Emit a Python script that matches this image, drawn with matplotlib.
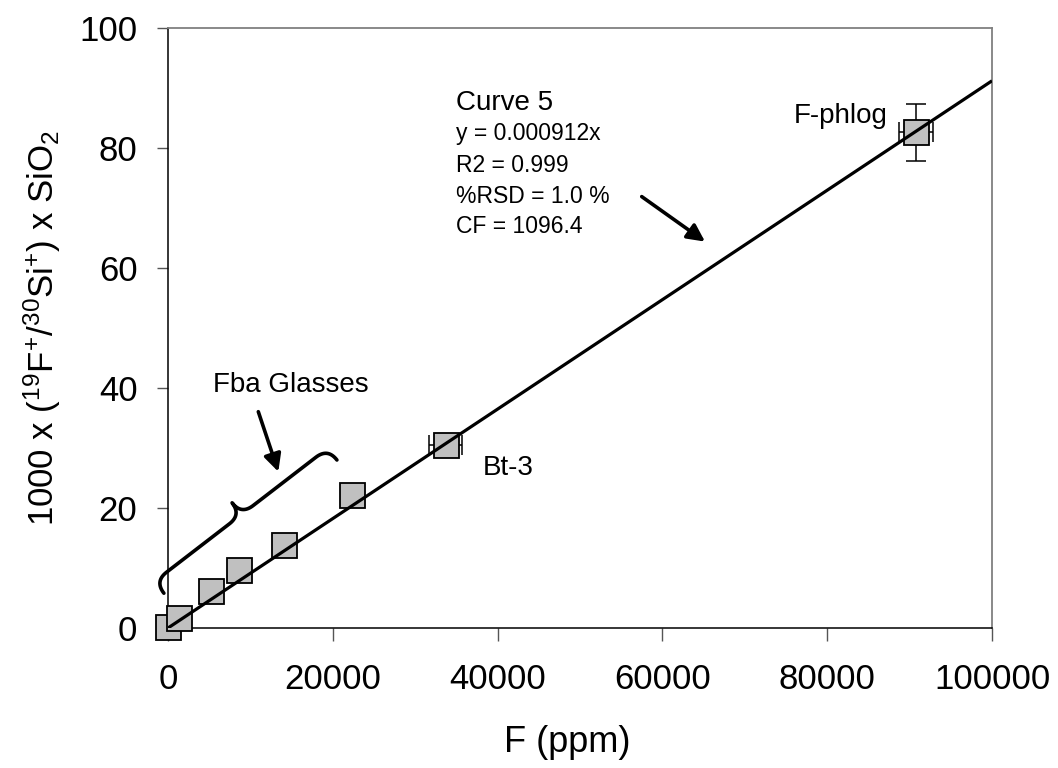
import numpy as np
import matplotlib.pyplot as plt

plt.rcParams['font.family'] = ['Liberation Sans', 'DejaVu Sans']
plt.rcParams['mathtext.default'] = 'regular'

# calibration standards: F (ppm) vs 1000 x (19F+/30Si+) x SiO2
std_names = ["Fba-0", "Fba-1", "Fba-2", "Fba-3", "Fba-4", "Fba-5", "Bt-3", "F-phlog"]
f_ppm = [0, 1330, 5160, 8600, 14020, 22290, 33680, 90750]
ratio = [0.1, 1.75, 6.1, 9.6, 13.9, 22.1, 30.55, 82.6]
f_err = [0, 0, 0, 0, 0, 0, 1970, 2080]
ratio_err = [0, 0, 0, 0, 0, 0, 0, 4.7]

slope = 0.000912
fit_x = np.array([0, 100000])

fig = plt.figure(figsize=(10.58, 7.68), dpi=100)
ax = fig.add_axes([168/1058, 1-628/768, 824/1058, 600/768])
ax.set_xlim(0, 100000)
ax.set_ylim(0, 100)

# error bars only where they were measured
ex = np.array(f_ppm)[6:]
ey = np.array(ratio)[6:]
ax.errorbar(ex, ey, xerr=f_err[6:], yerr=ratio_err[6:], fmt='none', ecolor='black',
            elinewidth=1.1, capsize=7, capthick=1.1, zorder=2, clip_on=False)
ax.plot(f_ppm, ratio, 's', ms=18, mfc='#c0c0c0', mec='black', mew=1.3, zorder=3, clip_on=False)
ax.plot(fit_x, slope*fit_x, color='black', lw=2.3, zorder=4, solid_capstyle='butt')

ax.set_xticks(np.arange(0, 100001, 20000))
ax.set_yticks(np.arange(0, 101, 20))
ax.tick_params(axis='x', length=9, width=1, color='#555555', pad=16, labelsize=25)
ax.tick_params(axis='y', length=8, width=1, color='#555555', pad=14, labelsize=25)
for s in ['top', 'right']:
    ax.spines[s].set_color('#808080')
    ax.spines[s].set_linewidth(1.3)
for s in ['left', 'bottom']:
    ax.spines[s].set_color('black')
    ax.spines[s].set_linewidth(1.1)

ax.set_xlabel('F (ppm)', fontsize=26)
ax.xaxis.set_label_coords(0.484, -0.162)
ax.set_ylabel(r'1000 x ($^{19}$F$^{+}$/$^{30}$Si$^{+}$) x SiO$_2$', fontsize=25)
ax.yaxis.set_label_coords(-0.128, 0.5)

# text labels
ax.text(34950, 86.3, 'Curve 5', fontsize=20, va='baseline')
eq_lines = ['y = 0.000912x', 'R2 = 0.999', '%RSD = 1.0 %', 'CF = 1096.4']
eq_y = [81.3, 76.0, 70.8, 65.8]
for t, yy in zip(eq_lines, eq_y):
    ax.text(34950, yy, t, fontsize=16.5, va='baseline')
ax.text(87380, 84.2, 'F-phlog', fontsize=20, va='baseline', ha='right')
ax.text(38230, 25.5, 'Bt-3', fontsize=20, va='baseline')
ax.text(5460, 39.3, 'Fba Glasses', fontsize=20, va='baseline')

arrow = dict(arrowstyle='-|>', color='black', lw=2.6, mutation_scale=26, shrinkA=0, shrinkB=0)
ax.annotate('', xy=(65170, 64.4), xytext=(57490, 71.9), arrowprops=arrow)
ax.annotate('', xy=(13390, 26.05), xytext=(10960, 36.05), arrowprops=arrow)


# curly brace over the Fba glasses, built in pixel space so it keeps its shape
def qbez(p0, c, p1, n=20):
    t = np.linspace(0, 1, n)[:, None]
    return (1-t)**2*p0 + 2*(1-t)*t*c + t**2*p1


def brace(p0, p1, h, r):
    p0 = ax.transData.transform(p0)
    p1 = ax.transData.transform(p1)
    d = p1 - p0
    L = np.hypot(*d)
    u = d / L
    nrm = np.array([-u[1], u[0]])
    pts = []
    segs = [((0, 0), (0, h/2), (r, h/2)),
            ((r, h/2), (L/2-r, h/2), (L/2-r, h/2)),
            ((L/2-r, h/2), (L/2, h/2), (L/2, h)),
            ((L/2, h), (L/2, h/2), (L/2+r, h/2)),
            ((L/2+r, h/2), (L-r, h/2), (L-r, h/2)),
            ((L-r, h/2), (L, h/2), (L, 0))]
    for a, c, b in segs:
        pts.append(qbez(np.array(a, float), np.array(c, float), np.array(b, float)))
    pts = np.vstack(pts)
    disp = p0 + pts[:, :1]*u + pts[:, 1:]*nrm
    return ax.transData.inverted().transform(disp)


bp = brace((-500, 5.8), (20500, 28.0), 30, 15)
ax.plot(bp[:, 0], bp[:, 1], color='black', lw=2.6, clip_on=False, solid_capstyle='round')

fig.savefig('out.png', dpi=100)
